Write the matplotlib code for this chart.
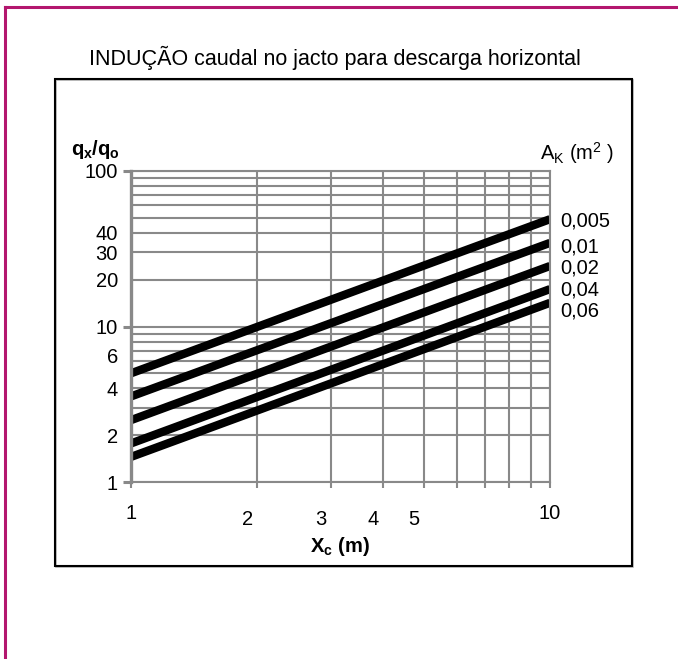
import matplotlib
matplotlib.use("Agg")
import matplotlib.pyplot as plt
import matplotlib.transforms as mtransforms
from matplotlib.patches import Rectangle
from matplotlib.lines import Line2D
from matplotlib.ticker import FixedLocator, FixedFormatter

plt.rcParams["font.family"] = ["Liberation Sans", "DejaVu Sans"]
plt.rcParams["mathtext.fontset"] = "custom"
plt.rcParams["mathtext.rm"] = "Liberation Sans"
plt.rcParams["mathtext.it"] = "Liberation Sans:italic"
plt.rcParams["mathtext.bf"] = "Liberation Sans:bold"

# Xc (m) nos extremos de cada recta
xc = [1, 10]
# q_x/q_o lido no grafico para cada area A_K
areas = ["0,005", "0,01", "0,02", "0,04", "0,06"]
q_x1 = [5.0, 3.55, 2.5, 1.77, 1.45]
q_x10 = [49.0, 34.5, 24.5, 17.4, 14.2]

y_major = [1, 10, 100]
y_grid = [2, 3, 4, 5, 6, 7, 8, 9, 20, 30, 40, 50, 60, 70, 80, 90]
y_grid_labels = ["2", "", "4", "", "6", "", "", "", "20", "30", "40", "", "", "", "", ""]
x_major = [1, 10]
x_grid = [2, 3, 4, 5, 6, 7, 8, 9]
x_grid_labels = ["2", "3", "4", "5", "", "", "", ""]

CINZA = "#898989"
MAGENTA = "#B3166E"
FS = 14.5

fig = plt.figure(figsize=(6.78, 6.59), dpi=100)
W, H = 678, 659

# moldura magenta e caixa do grafico
fig.add_artist(Line2D([5 / W, 1], [1 - 7 / H, 1 - 7 / H], color=MAGENTA, lw=2.2,
                      transform=fig.transFigure))
fig.add_artist(Line2D([5 / W, 5 / W], [1 - 7 / H, 0], color=MAGENTA, lw=2.2,
                      transform=fig.transFigure))
fig.add_artist(Rectangle((56 / W, 1 - 567 / H), 577 / W, 487 / H, fill=False,
                         edgecolor="#b5b5b5", lw=1.2, transform=fig.transFigure))
fig.add_artist(Rectangle((55 / W, 1 - 566 / H), 577 / W, 487 / H, fill=False,
                         edgecolor="black", lw=1.5, transform=fig.transFigure))

fig.text(335 / W, 1 - 58 / H, "INDUÇÃO caudal no jacto para descarga horizontal",
         ha="center", va="center", fontsize=15.5)

ax = fig.add_axes([131 / W, 1 - 482 / H, 419 / W, 311 / H])
ax.set_xscale("log")
ax.set_yscale("log")
ax.set_xlim(1, 10)
ax.set_ylim(1, 100)
ax.set_axisbelow(True)

for a, y1, y10 in zip(areas, q_x1, q_x10):
    ax.plot(xc, [y1, y10], color="black", lw=6, solid_capstyle="butt")

label_dy = [0, -1.5, 0, 0.5, -4.5]
for a, y10, dy in zip(areas, q_x10, label_dy):
    ax.annotate(a, xy=(10, y10), xytext=(7.5, dy), textcoords="offset points",
                ha="left", va="center_baseline", fontsize=FS, annotation_clip=False)

# eixos e grelha
ax.yaxis.set_major_locator(FixedLocator(y_major))
ax.yaxis.set_major_formatter(FixedFormatter([str(v) for v in y_major]))
ax.yaxis.set_minor_locator(FixedLocator(y_grid))
ax.yaxis.set_minor_formatter(FixedFormatter(y_grid_labels))
ax.xaxis.set_major_locator(FixedLocator(x_major))
ax.xaxis.set_major_formatter(FixedFormatter([str(v) for v in x_major]))
ax.xaxis.set_minor_locator(FixedLocator(x_grid))
ax.xaxis.set_minor_formatter(FixedFormatter(x_grid_labels))

ax.grid(which="both", color=CINZA, lw=1.5)
ax.tick_params(axis="y", which="major", direction="out", length=6, width=2.2,
               color=CINZA, pad=3.5, labelsize=FS)
ax.tick_params(axis="y", which="minor", length=0, pad=9.5, labelsize=FS)
ax.tick_params(axis="x", which="major", direction="out", length=4.5, width=1.5,
               color=CINZA, pad=11.5, labelsize=FS)
ax.tick_params(axis="x", which="minor", direction="out", length=4.5, width=1.5,
               color=CINZA, pad=15.5, labelsize=FS)

shift = mtransforms.ScaledTranslation(-10 / 100, 0, fig.dpi_scale_trans)
for lbl in ax.xaxis.get_minorticklabels():
    lbl.set_transform(lbl.get_transform() + shift)
# o "6" esta um pouco acima da sua linha no original
up = mtransforms.ScaledTranslation(0, 5 / 100, fig.dpi_scale_trans)
lbl6 = ax.yaxis.get_minorticklabels()[y_grid.index(6)]
lbl6.set_transform(lbl6.get_transform() + up)

for s in ["top", "right", "bottom"]:
    ax.spines[s].set_color(CINZA)
    ax.spines[s].set_linewidth(1.5)
ax.spines["left"].set_color(CINZA)
ax.spines["left"].set_linewidth(2.4)

ax.text(-0.084, 1.068, r"$\mathbf{q_x/q_o}$", transform=ax.transAxes,
        ha="center", va="center", fontsize=FS)
ax.text(0.976, 1.058, r"A$_\mathrm{K}$ (m$^2$ )", transform=ax.transAxes,
        ha="left", va="center", fontsize=FS)
ax.text(0.499, -0.206, r"$\mathbf{X_c}$ $\mathbf{(m)}$", transform=ax.transAxes,
        ha="center", va="center", fontsize=FS)

fig.savefig("out.png", dpi=100)
